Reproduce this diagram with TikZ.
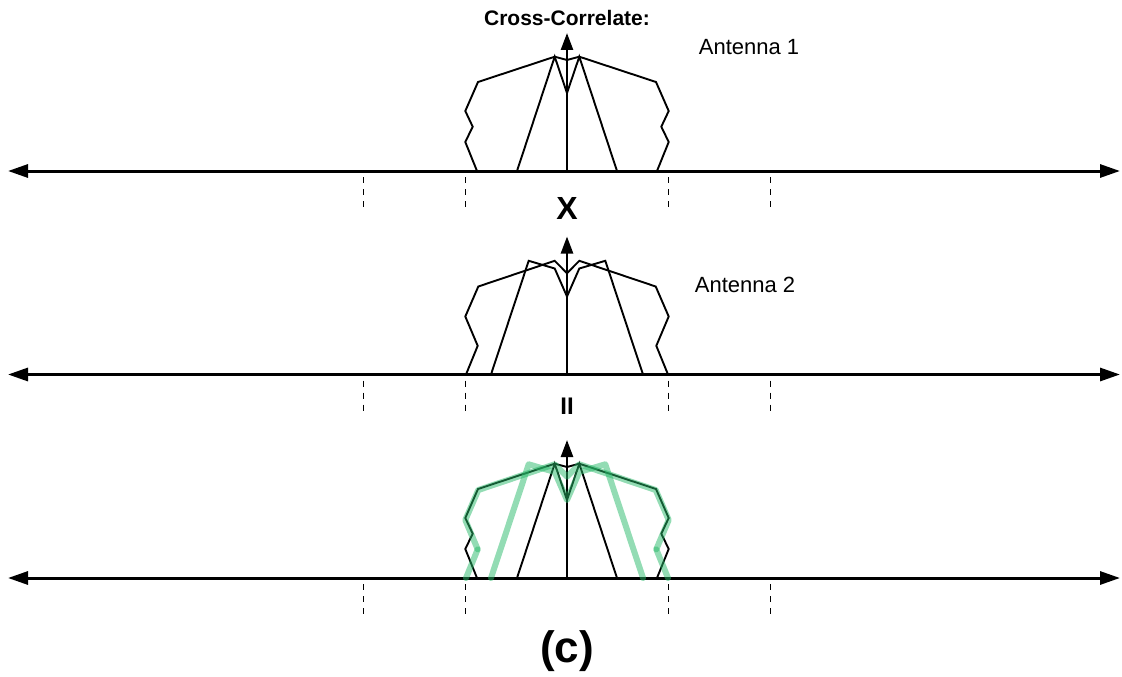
\documentclass[tikz,border=0pt]{standalone}
\usepackage{fontspec}
\setmainfont{Liberation Sans}
\usetikzlibrary{arrows.meta}
\definecolor{mint}{RGB}{40,185,105}
\newcommand\wideA{(-90,0) -- (-101.7,29) -- (-94.3,44.3) -- (-101.7,60) -- (-89,89) -- (-12.3,114.3) -- (0,111) -- (12.3,114.3) -- (89,89) -- (101.7,60) -- (94.3,44.3) -- (101.7,29) -- (90,0)}
\newcommand\narrowA{(-50,0) -- (-12.3,114.3) -- (0,78) -- (12.3,114.3) -- (50,0)}
\newcommand\wideB{(-101,0) -- (-89.3,28.7) -- (-101.7,58) -- (-88.7,88) -- (-12.3,113.7) -- (0,101.3) -- (12.3,113.7) -- (88.7,88) -- (101.7,58) -- (89.3,28.7) -- (101,0)}
\newcommand\narrowB{(-76,0) -- (-38.3,113.7) -- (-12.3,106) -- (0,78) -- (12.3,106) -- (38.3,113.7) -- (76,0)}
\begin{document}
\begin{tikzpicture}[x=1pt,y=-1pt,
 axisline/.style={line width=3pt,{Triangle[length=20pt,width=13pt]}-{Triangle[length=20pt,width=13pt]}},
 vaxis/.style={line width=2.5pt,-{Triangle[length=17pt,width=12pt]}},
 sig/.style={line width=1.9pt,line join=miter},
 hl/.style={line width=6pt,draw=mint,opacity=0.5,line cap=round,line join=round},
 ticks/.style={line width=1pt,dash pattern=on 6pt off 6pt},
 lbl/.style={font=\fontsize{22}{26}\selectfont},
 blbl/.style={font=\bfseries\fontsize{#1}{#1}\selectfont}]
\useasboundingbox (0,0) rectangle (1122,677);

% panel 1
\coordinate (L1) at (8,171);
\coordinate (R1) at (1120,171);
\coordinate (O1) at (567,171);
\coordinate (T1) at (567,33);
\begin{scope}[shift={(567,171)},yscale=-1]
 \draw[sig] \wideA;
 \draw[sig] \narrowA;
\end{scope}
\draw[axisline] (L1) -- (R1);
\draw[vaxis] (O1) -- (T1);
\foreach \x in {363.5,465.5,668,770} \draw[ticks] (\x,177) -- (\x,209);

% panel 2
\coordinate (L2) at (8,374.5);
\coordinate (R2) at (1120,374.5);
\coordinate (O2) at (567,374.5);
\coordinate (T2) at (567,236.5);
\begin{scope}[shift={(567,374.5)},yscale=-1]
 \draw[sig] \wideB;
 \draw[sig] \narrowB;
\end{scope}
\draw[axisline] (L2) -- (R2);
\draw[vaxis] (O2) -- (T2);
\foreach \x in {363.5,465.5,668,770} \draw[ticks] (\x,380.5) -- (\x,412.5);

% panel 3
\coordinate (L3) at (8,578);
\coordinate (R3) at (1120,578);
\coordinate (O3) at (567,578);
\coordinate (T3) at (567,440);
\begin{scope}[shift={(567,578)},yscale=-1]
 \draw[sig] \wideA;
 \draw[sig] \narrowA;
\end{scope}
\draw[axisline] (L3) -- (R3);
\draw[vaxis] (O3) -- (T3);
\foreach \x in {363.5,465.5,668,770} \draw[ticks] (\x,584) -- (\x,616);
\begin{scope}[shift={(567,578)},yscale=-1]
 \draw[hl] (-101,0) -- (-89.3,28.7);
 \draw[hl] (-89.3,28.7) -- (-101.7,58) -- (-88.7,88) -- (-12.3,113.7) -- (0,101.3) -- (12.3,113.7) -- (88.7,88) -- (101.7,58) -- (89.3,28.7);
 \draw[hl] (89.3,28.7) -- (101,0);
 \draw[hl] \narrowB;
\end{scope}

% labels
\node[blbl=21] (title) at (567,18) {Cross-Correlate:};
\node[lbl] (ant1) at (749,47) {Antenna 1};
\node[lbl] (ant2) at (745,285) {Antenna 2};
\node[blbl=32] (times) at (567,208) {X};
\node[blbl=24] (eq) at (567,406) {II};
\node[blbl=44] (cap) at (567,651) {(c)};
\end{tikzpicture}
\end{document}
